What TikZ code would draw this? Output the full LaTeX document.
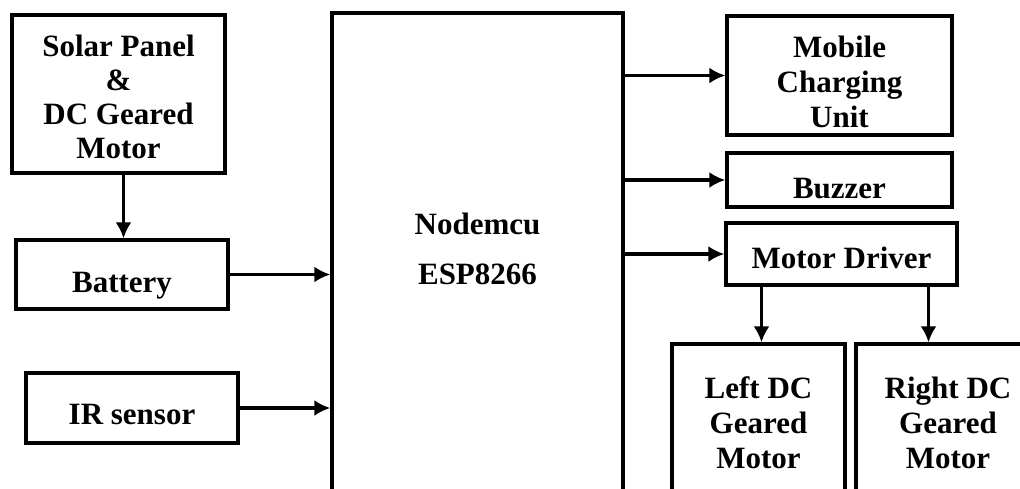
\documentclass[tikz,border=0pt]{standalone}
\usepackage{fontspec}
\setmainfont{Liberation Serif}
\usetikzlibrary{arrows.meta}
\newcommand{\lowtext}[2]{\raisebox{-#1}[0pt][0pt]{\begin{tabular}{@{}c@{}}#2\end{tabular}}}

\begin{document}
\begin{tikzpicture}[x=1pt, y=-1pt, >={Latex[length=16pt,width=16pt]}, line width=3.3pt,
  every node/.style={draw, inner sep=0pt, font=\fontsize{31}{34}\selectfont\bfseries}]
\clip (0,0) rectangle (1020,488);
\node[minimum width=213pt, minimum height=158pt] (solar) at (118.5,94) {\lowtext{13pt}{Solar Panel\\\&\\DC Geared\\Motor}};
\node[minimum width=212pt, minimum height=69pt] (battery) at (122,274.5) {\lowtext{17pt}{Battery}};
\node[minimum width=212pt, minimum height=70pt] (ir) at (132,408) {\lowtext{16pt}{IR sensor}};
\node[minimum width=291pt, minimum height=507pt, font=\fontsize{31}{50}\selectfont\bfseries] (mcu) at (477.5,266.5) {\lowtext{-11pt}{Nodemcu\\ESP8266}};
\node[minimum width=225pt, minimum height=119pt, font=\fontsize{31}{35}\selectfont\bfseries] (mobile) at (839.5,75.5) {\lowtext{16pt}{Mobile\\Charging\\Unit}};
\node[minimum width=225pt, minimum height=54pt] (buzzer) at (839.5,180) {\lowtext{18pt}{Buzzer}};
\node[minimum width=231pt, minimum height=62pt] (driver) at (841.5,254) {\lowtext{14pt}{Motor Driver}};
\node[minimum width=173pt, minimum height=156pt, font=\fontsize{31}{35}\selectfont\bfseries] (left) at (758.5,422) {\lowtext{11pt}{Left DC\\Geared\\Motor}};
\node[minimum width=184pt, minimum height=156pt, font=\fontsize{31}{35}\selectfont\bfseries] (right) at (948,422) {\lowtext{11pt}{Right DC\\Geared\\Motor}};
\draw[->] ([xshift=5pt]solar.south) -- ([xshift=5pt]solar.south |- battery.north);
\draw[->] (battery.east) -- (battery.east -| mcu.west);
\draw[->] (ir.east) -- (ir.east -| mcu.west);
\draw[->] (mobile.west -| mcu.east) -- (mobile.west);
\draw[->] (buzzer.west -| mcu.east) -- (buzzer.west);
\draw[->] (driver.west -| mcu.east) -- (driver.west);
\draw[->] ([xshift=-80pt]driver.south) -- ([xshift=-80pt]driver.south |- left.north);
\draw[->] ([xshift=87pt]driver.south) -- ([xshift=87pt]driver.south |- right.north);
\end{tikzpicture}
\end{document}
